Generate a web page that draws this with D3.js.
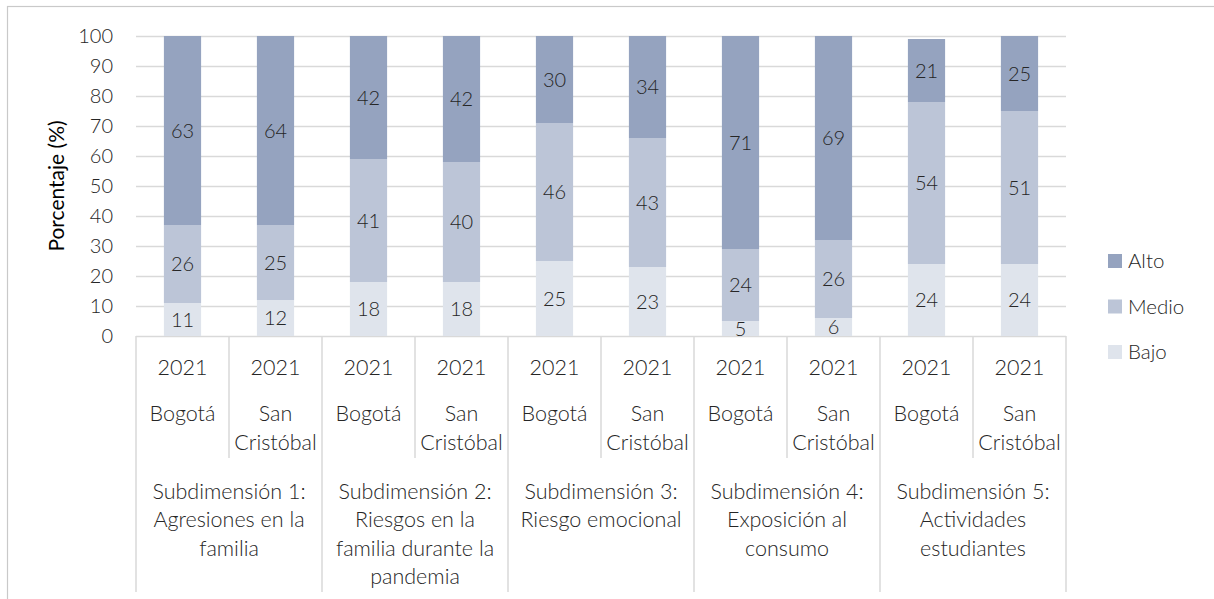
<!DOCTYPE html>
<html>
<head>
<meta charset="utf-8">
<script src="https://cdn.jsdelivr.net/npm/d3@7"></script>
<style>
  html, body { margin: 0; padding: 0; background: #ffffff; }
  svg { display: block; }
  text { font-family: Lato, "Open Sans", sans-serif; }
</style>
</head>
<body>
<svg id="chart" width="1214" height="599"></svg>
<script>
// Stacked percentage levels per subdimension and locality (2021)
const years = ["2021", "2021", "2021", "2021", "2021", "2021", "2021", "2021", "2021", "2021"];
const places = [["Bogotá"], ["San", "Cristóbal"], ["Bogotá"], ["San", "Cristóbal"], ["Bogotá"], ["San", "Cristóbal"], ["Bogotá"], ["San", "Cristóbal"], ["Bogotá"], ["San", "Cristóbal"]];
const subdimensions = [
  ["Subdimensión 1:", "Agresiones en la", "familia"],
  ["Subdimensión 2:", "Riesgos en la", "familia durante la", "pandemia"],
  ["Subdimensión 3:", "Riesgo emocional"],
  ["Subdimensión 4:", "Exposición al", "consumo"],
  ["Subdimensión 5:", "Actividades", "estudiantes"]
];
const bajo  = [11, 12, 18, 18, 25, 23, 5, 6, 24, 24];
const medio = [26, 25, 41, 40, 46, 43, 24, 26, 54, 51];
const alto  = [63, 64, 42, 42, 30, 34, 71, 69, 21, 25];
const seriesNames = ["Bajo", "Medio", "Alto"];
const yTicks = [0, 10, 20, 30, 40, 50, 60, 70, 80, 90, 100];

const colors = { Alto: "#95a3bf", Medio: "#bcc5d7", Bajo: "#dfe4ec" };
const gridColor = "#d9d9d9";
const textColor = "#262626";
const tickSize = 20, labelSize = 20, catSize = 21.5, legendSize = 20.5, titleSize = 21;
const fontWeight = 300;

const svg = d3.select("#chart");

// Outer chart frame
svg.append("rect")
  .attr("x", 7.5).attr("y", 6.5)
  .attr("width", 1240).attr("height", 640)
  .attr("fill", "none").attr("stroke", "#c9c9c9").attr("stroke-width", 1.2);

const plotLeft = 136, plotRight = 1066, plotTop = 36, plotBottom = 336;
const idx = d3.range(bajo.length);

const x = d3.scaleBand().domain(idx).range([plotLeft, plotRight]).paddingInner(0.6).paddingOuter(0.3);
const y = d3.scaleLinear().domain([0, 100]).range([plotBottom, plotTop]);

// Gridlines and y tick labels
const yAxis = d3.axisLeft(y).tickValues(yTicks).tickSize(-(plotRight - plotLeft)).tickPadding(23);
const ga = svg.append("g").attr("transform", `translate(${plotLeft},0)`).call(yAxis);
ga.select(".domain").remove();
ga.selectAll(".tick line").attr("stroke", gridColor).attr("stroke-width", 1.5);
ga.selectAll(".tick text")
  .attr("fill", textColor).attr("font-size", tickSize).attr("font-weight", fontWeight)
  .attr("font-family", "Lato, sans-serif");

// Stacked bars
const rows = idx.map(i => ({ i, Bajo: bajo[i], Medio: medio[i], Alto: alto[i] }));
const stack = d3.stack().keys(seriesNames)(rows);

svg.append("clipPath").attr("id", "plotClip")
  .append("rect").attr("x", plotLeft).attr("y", plotTop)
  .attr("width", plotRight - plotLeft).attr("height", plotBottom - plotTop);

const barsG = svg.append("g").attr("clip-path", "url(#plotClip)");
stack.forEach(layer => {
  barsG.selectAll(null).data(layer).enter().append("rect")
    .attr("x", d => x(d.data.i))
    .attr("width", x.bandwidth())
    .attr("y", d => y(d[1]))
    .attr("height", d => y(d[0]) - y(d[1]))
    .attr("fill", colors[layer.key]);
});

// Value labels, centred on the visible part of each segment
stack.forEach(layer => {
  svg.selectAll(null).data(layer).enter().append("text")
    .attr("x", d => x(d.data.i) + x.bandwidth() / 2)
    .attr("y", d => y((Math.min(d[0], 100) + Math.min(d[1], 100)) / 2))
    .attr("dy", "0.35em")
    .attr("text-anchor", "middle")
    .attr("font-size", labelSize).attr("font-weight", fontWeight)
    .attr("fill", textColor)
    .text(d => d.data[layer.key]);
});

// Multi-level category axis
const step = x.step();
const catG = svg.append("g");
const lineAttrs = sel => sel.attr("stroke", gridColor).attr("stroke-width", 1.5);
// separators between groups (full height) and within groups (short)
for (let k = 0; k <= idx.length; k++) {
  const xx = plotLeft + k * step;
  const full = k % 2 === 0;
  catG.append("line").call(lineAttrs)
    .attr("x1", xx).attr("x2", xx)
    .attr("y1", plotBottom).attr("y2", full ? 592 : 458);
}

// Year row
catG.selectAll(null).data(idx).enter().append("text")
  .attr("x", i => plotLeft + (i + 0.5) * step)
  .attr("y", 367).attr("dy", "0.35em")
  .attr("text-anchor", "middle")
  .attr("font-size", catSize).attr("font-weight", fontWeight).attr("fill", textColor)
  .text(i => years[i]);

// Locality row
idx.forEach(i => {
  const t = catG.append("text")
    .attr("text-anchor", "middle")
    .attr("font-size", catSize).attr("font-weight", fontWeight).attr("fill", textColor);
  places[i].forEach((ln, j) => {
    t.append("tspan")
      .attr("x", plotLeft + (i + 0.5) * step)
      .attr("y", 413 + j * 29.5).attr("dy", "0.35em")
      .text(ln);
  });
});

// Subdimension row
subdimensions.forEach((lines, g) => {
  const t = catG.append("text")
    .attr("text-anchor", "middle")
    .attr("font-size", catSize).attr("font-weight", fontWeight).attr("fill", textColor);
  lines.forEach((ln, j) => {
    t.append("tspan")
      .attr("x", plotLeft + (2 * g + 1) * step)
      .attr("y", 491 + j * 28.5).attr("dy", "0.35em")
      .text(ln);
  });
});

// Y axis title
svg.append("text")
  .attr("transform", "translate(57,186) rotate(-90)")
  .attr("dy", "0.35em")
  .attr("text-anchor", "middle")
  .attr("font-size", titleSize).attr("font-weight", 400).attr("fill", "#000000")
  .text("Porcentaje (%)");

// Legend
const legendItems = ["Alto", "Medio", "Bajo"];
const lg = svg.append("g");
legendItems.forEach((name, k) => {
  const cy = 261 + k * 45.5;
  lg.append("rect").attr("x", 1108).attr("y", cy - 7).attr("width", 14).attr("height", 14)
    .attr("fill", colors[name]);
  lg.append("text").attr("x", 1128).attr("y", cy).attr("dy", "0.35em")
    .attr("font-size", legendSize).attr("font-weight", fontWeight).attr("fill", textColor)
    .text(name);
});
</script>
</body>
</html>
